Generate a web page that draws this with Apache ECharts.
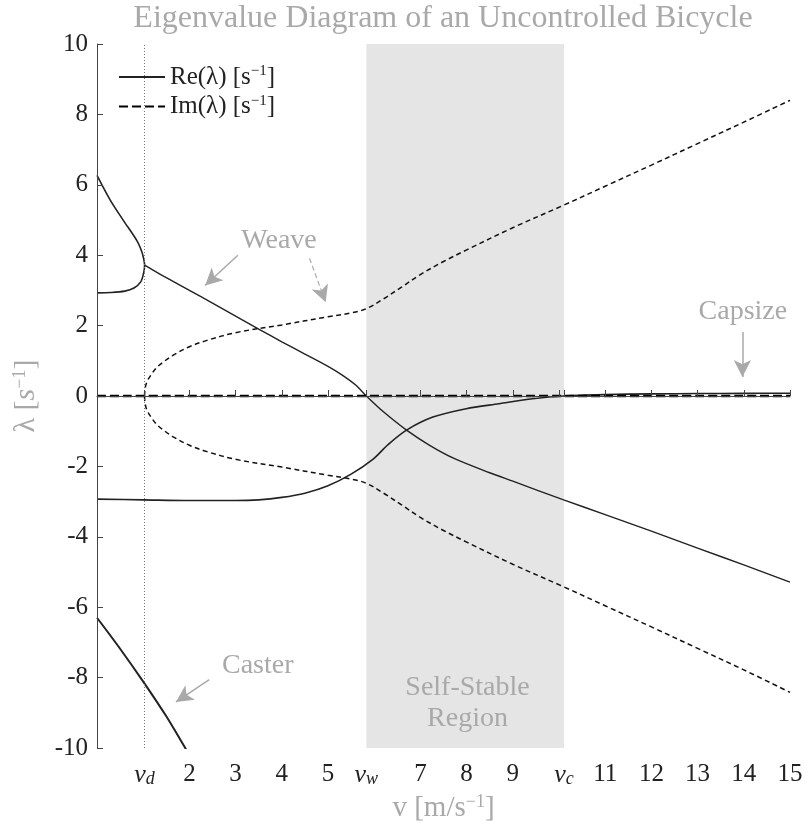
<!DOCTYPE html>
<html>
<head>
<meta charset="utf-8">
<script src="https://cdn.jsdelivr.net/npm/echarts@6/dist/echarts.min.js"></script>
<style>html,body{margin:0;padding:0;background:#fff}#c{width:805px;height:830px}</style>
</head>
<body>
<div id="c"></div>
<script>
// ---- characteristic speeds ----
const vD = 1.03, vW = 5.83, vC = 10.11;

// ---- axis ticks ----
const xTicks = [vD, 2, 3, 4, 5, vW, 7, 8, 9, 10, vC, 11, 12, 13, 14, 15];
const xLabels = [vD, 2, 3, 4, 5, vW, 7, 8, 9, vC, 11, 12, 13, 14, 15];

// ---- weave, real part below vD (two real roots merging) ----
const weaveLoopV = [0, 0.29, 0.57, 0.86, 0.97, 1.01, 1.03, 1.01, 0.95, 0.8, 0.6, 0.3, 0];
const weaveLoopRe = [6.27, 5.56, 4.99, 4.42, 4.1, 3.9, 3.72, 3.5, 3.25, 3.07, 2.98, 2.94, 2.93];

// ---- weave, real part above vD ----
const weaveReV = [1.03, 1.5, 2, 2.5, 3, 3.5, 4, 4.5, 5, 5.3, 5.6, 5.83, 6.2, 6.7, 7.2, 7.74, 8.5, 9, 10.1, 11, 12, 13, 14, 15];
const weaveRe = [3.72, 3.36, 3.0, 2.64, 2.27, 1.9, 1.54, 1.19, 0.84, 0.6, 0.31, 0, -0.45, -0.97, -1.4, -1.78, -2.18, -2.42, -2.95, -3.37, -3.84, -4.32, -4.8, -5.29];

// ---- weave, imaginary part (upper / lower) ----
const weaveImV = [1.03, 1.04, 1.08, 1.18, 1.3, 1.45, 1.65, 2.0, 2.38, 3, 4, 5, 5.5, 5.83, 6.2, 6.6, 7, 7.5, 8, 9, 10.1, 11, 12, 13, 14, 15];
const weaveImUp = [0, 0.2, 0.4, 0.62, 0.82, 0.98, 1.16, 1.4, 1.58, 1.8, 2.02, 2.25, 2.36, 2.48, 2.76, 3.1, 3.45, 3.82, 4.15, 4.78, 5.42, 5.96, 6.56, 7.17, 7.78, 8.4];
const weaveImLo = [0, -0.2, -0.4, -0.62, -0.82, -0.98, -1.16, -1.4, -1.58, -1.8, -2.02, -2.25, -2.36, -2.48, -2.76, -3.1, -3.45, -3.82, -4.15, -4.78, -5.42, -5.96, -6.56, -7.17, -7.78, -8.42];

// ---- capsize, real part ----
const capsizeV = [0, 1, 2, 3, 3.5, 4, 4.5, 5, 5.5, 5.97, 6.3, 6.7, 7.27, 7.99, 8.7, 9.43, 10.1, 11, 12, 13, 14, 15];
const capsizeRe = [-2.93, -2.95, -2.97, -2.97, -2.95, -2.88, -2.76, -2.55, -2.22, -1.8, -1.38, -0.97, -0.6, -0.36, -0.22, -0.08, 0, 0.04, 0.06, 0.07, 0.075, 0.08];

// ---- caster, real part ----
const casterV = [0, 0.5, 1.03, 1.5, 1.91, 2.1];
const casterRe = [-6.3, -7.18, -8.17, -9.1, -10.0, -10.42];

// ---- imaginary part of real roots ----
const zeroImV = [0, 15];
const zeroIm = [0, 0];

const zip = (a, b) => a.map((x, i) => [x, b[i]]);

const SERIF = 'Liberation Serif';
const INK = '#222';
const GREY = '#a9a9a9';

const solid = (data, w) => ({
  name: 'Re', type: 'line', data, smooth: 0.3, symbol: 'none', showSymbol: false,
  lineStyle: { color: INK, width: w || 1.6, type: 'solid' }, itemStyle: { color: INK }, z: 3
});
const dashed = (data, w, dash, col) => ({
  name: 'Im', type: 'line', data, smooth: 0.35, symbol: 'none', showSymbol: false,
  lineStyle: { color: col || '#111', width: w || 1.5, type: dash || [5, 3.5] }, itemStyle: { color: '#111' }, z: 3
});

const labelFmt = v => {
  if (Math.abs(v - vD) < 1e-6) return '{i|v}{sub|d}';
  if (Math.abs(v - vW) < 1e-6) return '{i|v}{sub|w}';
  if (Math.abs(v - vC) < 1e-6) return '{i|v}{sub|c}';
  return '{n|' + v + '}';
};

const arrow = (a, b, ls) => [
  Object.assign({ coord: a, symbol: 'none' }, ls ? { lineStyle: ls } : {}),
  { coord: b, symbol: 'arrow', symbolSize: [13, 17] }
];

const chart = echarts.init(document.getElementById('c'), null, { renderer: 'canvas' });
chart.setOption({
  animation: false,
  backgroundColor: '#fff',
  graphic: [{
    type: 'text', x: 443, y: 3,
    style: { text: 'Eigenvalue Diagram of an Uncontrolled Bicycle', fill: GREY, font: '32px "Liberation Serif"', textAlign: 'center', textVerticalAlign: 'top' }
  }],
  grid: { left: 97, right: 15, top: 44, bottom: 82, containLabel: false, outerBoundsMode: 'none' },
  legend: {
    data: ['Re', 'Im'], orient: 'vertical', left: 113, top: 59, itemWidth: 46, itemHeight: 14, itemGap: 4,
    selectedMode: false,
    itemStyle: { opacity: 0 },
    formatter: n => n === 'Re' ? '{t|Re(λ) [s}{sup|−1}{t|]}' : '{t|Im(λ) [s}{sup|−1}{t|]}',
    textStyle: {
      rich: {
        t: { fontFamily: SERIF, fontSize: 25, color: INK, lineHeight: 26 },
        sup: { fontFamily: SERIF, fontSize: 15, color: INK, verticalAlign: 'top', lineHeight: 15 }
      }
    }
  },
  xAxis: {
    type: 'value', min: 0, max: 15, z: 10,
    name: '{a|v [m/s}{sup|−1}{a|]}', nameLocation: 'middle', nameGap: 43,
    nameTextStyle: { rich: {
      a: { fontFamily: SERIF, fontSize: 29, color: GREY, lineHeight: 30 },
      sup: { fontFamily: SERIF, fontSize: 18, color: GREY, verticalAlign: 'top', lineHeight: 18 }
    } },
    axisLine: { show: true, lineStyle: { color: '#444', width: 1 } },
    axisTick: { show: true, inside: true, length: 6, customValues: xTicks, lineStyle: { color: '#444' } },
    axisLabel: {
      customValues: xLabels, margin: 14, formatter: labelFmt,
      rich: {
        n: { fontFamily: SERIF, fontSize: 25, color: INK },
        i: { fontFamily: SERIF, fontSize: 26, fontStyle: 'italic', color: INK },
        sub: { fontFamily: SERIF, fontSize: 18, fontStyle: 'italic', color: INK, verticalAlign: 'bottom', padding: [8, 0, 0, 0] }
      }
    },
    splitLine: { show: false }
  },
  yAxis: {
    type: 'value', min: -10, max: 10, interval: 2, z: 10,
    name: '{a|λ [}{s|s}{sup|−1}{a|]}', nameLocation: 'middle', nameGap: 56, nameRotate: 90,
    nameTextStyle: { rich: {
      a: { fontFamily: SERIF, fontSize: 30, color: GREY, lineHeight: 30 },
      s: { fontFamily: SERIF, fontSize: 30, fontStyle: 'italic', color: GREY, lineHeight: 30 },
      sup: { fontFamily: SERIF, fontSize: 18, color: GREY, verticalAlign: 'top', lineHeight: 18 }
    } },
    axisLine: { show: true, lineStyle: { color: '#444', width: 1 } },
    axisTick: { show: true, inside: true, length: 6, lineStyle: { color: '#444' } },
    axisLabel: { fontFamily: SERIF, fontSize: 25, color: INK, margin: 9 },
    splitLine: { show: false }
  },
  series: [
    {
      name: 'bg', type: 'line', data: [], silent: true, z: 1,
      markArea: { silent: true, itemStyle: { color: '#e5e5e5' }, data: [[{ xAxis: vW }, { xAxis: vC }]] },
      markLine: { silent: true, symbol: 'none', label: { show: false },
        lineStyle: { color: '#777', type: [1, 2], width: 1 }, data: [{ xAxis: vD }] }
    },
    solid(zip(weaveLoopV, weaveLoopRe), 1.6),
    solid(zip(weaveReV, weaveRe), 1.4),
    solid(zip(capsizeV, capsizeRe), 1.6),
    solid(zip(casterV, casterRe), 2),
    dashed(zip(zeroImV, zeroIm), 2.6, [9, 4], '#000'),
    dashed(zip(weaveImV, weaveImUp)),
    dashed(zip(weaveImV, weaveImLo)),
    {
      name: 'notes', type: 'line', data: [], silent: true, z: 4,
      markLine: {
        silent: true, label: { show: false },
        itemStyle: { color: GREY },
        lineStyle: { color: GREY, width: 1.5, type: 'solid' },
        data: [
          arrow([3.05, 4.0], [2.34, 3.14]),
          arrow([4.6, 3.91], [4.95, 2.66], { type: [5, 3], color: GREY, width: 1.2 }),
          arrow([13.97, 1.82], [13.97, 0.54]),
          arrow([2.43, -8.06], [1.71, -8.69])
        ]
      },
      markPoint: {
        silent: true, symbol: 'rect', symbolSize: 0,
        label: { show: true, position: 'inside', fontFamily: SERIF, fontSize: 28, color: GREY, lineHeight: 31, formatter: p => p.name },
        data: [
          { name: 'Weave', coord: [3.94, 4.42] },
          { name: 'Capsize', coord: [13.98, 2.41] },
          { name: 'Caster', coord: [3.48, -7.65] },
          { name: 'Self-Stable\nRegion', coord: [8.02, -8.73] }
        ]
      }
    }
  ]
});
</script>
</body>
</html>
